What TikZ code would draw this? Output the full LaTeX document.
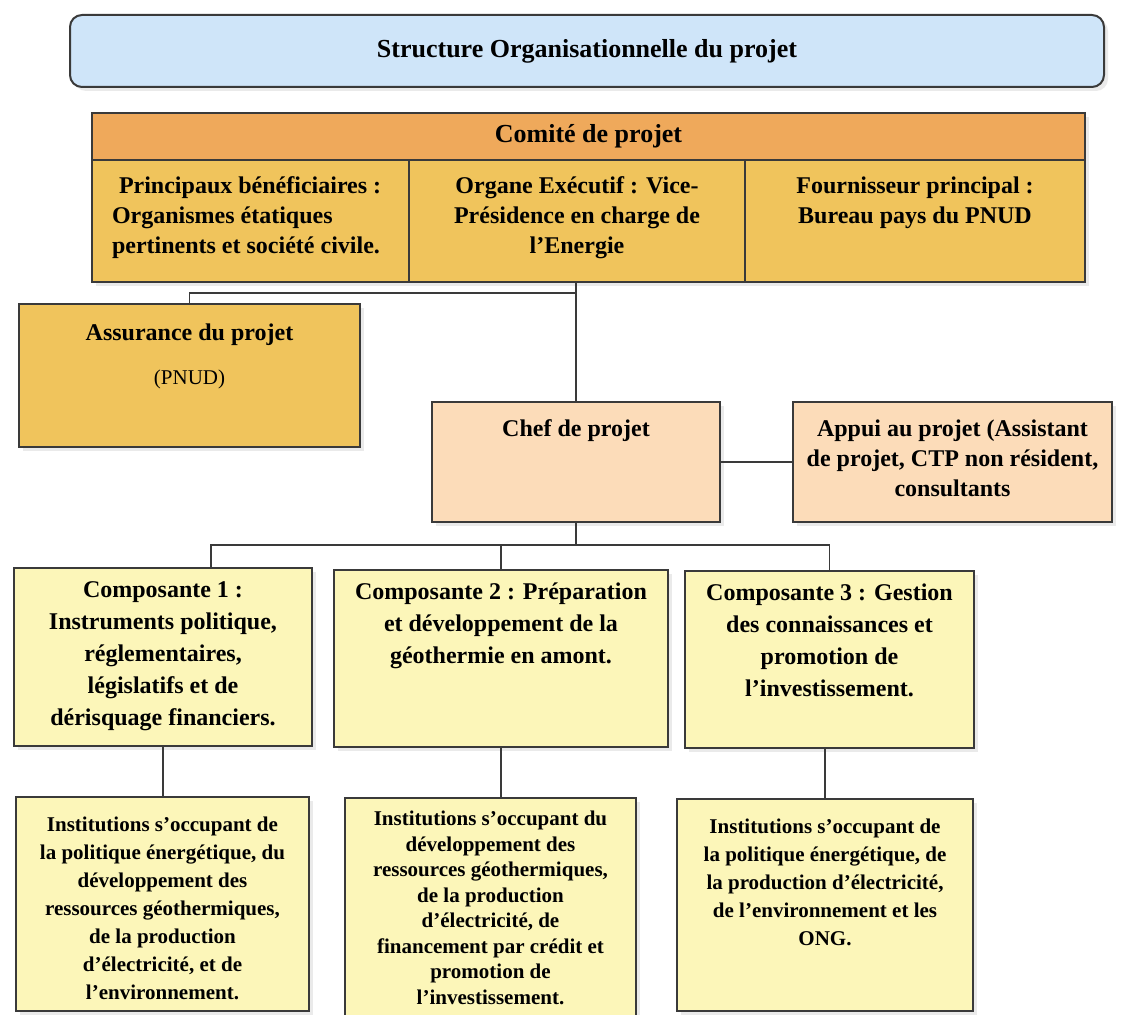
\documentclass[tikz,border=0pt]{standalone}
\usepackage{fontspec}
\setmainfont{Liberation Serif}
\usetikzlibrary{positioning,shadows}
\definecolor{titleblue}{HTML}{CFE5F9}
\definecolor{comorange}{HTML}{EFA95B}
\definecolor{comgold}{HTML}{F0C45C}
\definecolor{chefpeach}{HTML}{FCDCB9}
\definecolor{compyellow}{HTML}{FCF6B9}
\definecolor{edgegray}{HTML}{3A3A3A}
\tikzset{every shadow/.style={fill=black!16,shadow xshift=4pt,shadow yshift=-4pt}}
\tikzset{orgbox/.style={draw=edgegray,line width=2pt,inner sep=0pt,drop shadow}}
\tikzset{link/.style={draw=edgegray,line width=1.6pt}}
\tikzset{bigfont/.style={font=\fontsize{24}{30}\selectfont\bfseries}}
\tikzset{compfont/.style={font=\fontsize{24}{32}\selectfont\bfseries}}
\tikzset{smallfont/.style={font=\fontsize{21}{28}\selectfont\bfseries}}
% width, height, top padding, text
\newcommand{\boxtext}[4]{\parbox[c][#2pt][t]{#1pt}{\centering\vspace*{#3pt}#4}}

\begin{document}
\begin{tikzpicture}[x=1pt,y=-1pt]
\useasboundingbox (0,0) rectangle (1123,1014);
% \draw[help lines,step=50] (0,0) grid (1123,1014);
\node (title) [orgbox,rounded corners=12pt,fill=titleblue,minimum width=1034pt,minimum height=72pt,font=\fontsize{26}{30}\selectfont\bfseries] at (587,51) {Structure Organisationnelle du projet};
%
\node (comite) [orgbox,fill=comorange,minimum width=993pt,minimum height=47pt,font=\fontsize{26}{30}\selectfont\bfseries] at (588.5,136.5) {Comité de projet};
\node (benef) [orgbox,fill=comgold,bigfont] at (250.5,221) {\parbox[c][122pt][t]{317pt}{\raggedright\vspace*{12pt}\strut\hspace*{27pt}Principaux bénéficiaires :\\\hspace*{20pt}Organismes étatiques\\\hspace*{20pt}pertinents et société civile.}};
\node (organe) [orgbox,fill=comgold,bigfont] at (577,221) {\boxtext{336}{122}{12}{\strut Organe Exécutif : Vice-\\Présidence en charge de\\l’Energie}};
\node (fourn) [orgbox,fill=comgold,bigfont] at (915,221) {\boxtext{340}{122}{12}{\strut Fournisseur principal :\\Bureau pays du PNUD}};
%
\node (assur) [orgbox,fill=comgold,bigfont] at (189.5,375.5) {\boxtext{341}{143}{15}{\strut Assurance du projet\\[14pt]{\fontsize{21}{26}\selectfont\mdseries (PNUD)}}};
\node (chef) [orgbox,fill=chefpeach,bigfont] at (576,462) {\boxtext{288}{120}{13}{\strut Chef de projet}};
\node (appui) [orgbox,fill=chefpeach,bigfont] at (952.5,462) {\boxtext{319}{120}{13}{\strut Appui au projet (Assistant\\de projet, CTP non résident,\\consultants}};
%
\node (comp1) [orgbox,fill=compyellow,compfont] at (163,657) {\boxtext{298}{178}{7}{\strut Composante 1 :\\Instruments politique,\\réglementaires,\\législatifs et de\\dérisquage financiers.}};
\node (comp2) [orgbox,fill=compyellow,compfont] at (501,658.5) {\boxtext{334}{177}{7}{\strut Composante 2 : Préparation\\et développement de la\\géothermie en amont.}};
\node (comp3) [orgbox,fill=compyellow,compfont] at (829.5,659.5) {\boxtext{289}{177}{7}{\strut Composante 3 : Gestion\\des connaissances et\\promotion de\\l’investissement.}};
%
\node (inst1) [orgbox,fill=compyellow,smallfont] at (162.5,904) {\boxtext{293}{214}{15}{\strut Institutions s’occupant de\\la politique énergétique, du\\développement des\\ressources géothermiques,\\de la production\\d’électricité, et de\\l’environnement.}};
\node (inst2) [orgbox,fill=compyellow,font=\fontsize{21}{25.5}\selectfont\bfseries] at (490.5,910) {\boxtext{291}{224}{10}{\strut Institutions s’occupant du\\développement des\\ressources géothermiques,\\de la production\\d’électricité, de\\financement par crédit et\\promotion de\\l’investissement.}};
\node (inst3) [orgbox,fill=compyellow,smallfont] at (825,905) {\boxtext{296}{212}{15}{\strut Institutions s’occupant de\\la politique énergétique, de\\la production d’électricité,\\de l’environnement et les\\ONG.}};
%
\coordinate (jA) at (576,293);
\coordinate (jB) at (576,545);
\draw[link] (chef.north |- organe.south) -- (chef.north);
\draw[link] (assur.north) |- (jA);
\draw[link] (chef.east) -- (appui.west);
%
\draw[link] (chef.south) -- (jB);
\draw[link] ([xshift=48pt]comp1.north) |- (jB) -| (comp3.north);
\draw[link] (comp2.north) -- (comp2.north |- jB);
%
\draw[link] (comp1.south) -- (comp1.south |- inst1.north);
\draw[link] (comp2.south) -- (comp2.south |- inst2.north);
\draw[link] (inst3.north) -- (inst3.north |- comp3.south);
\end{tikzpicture}
\end{document}
